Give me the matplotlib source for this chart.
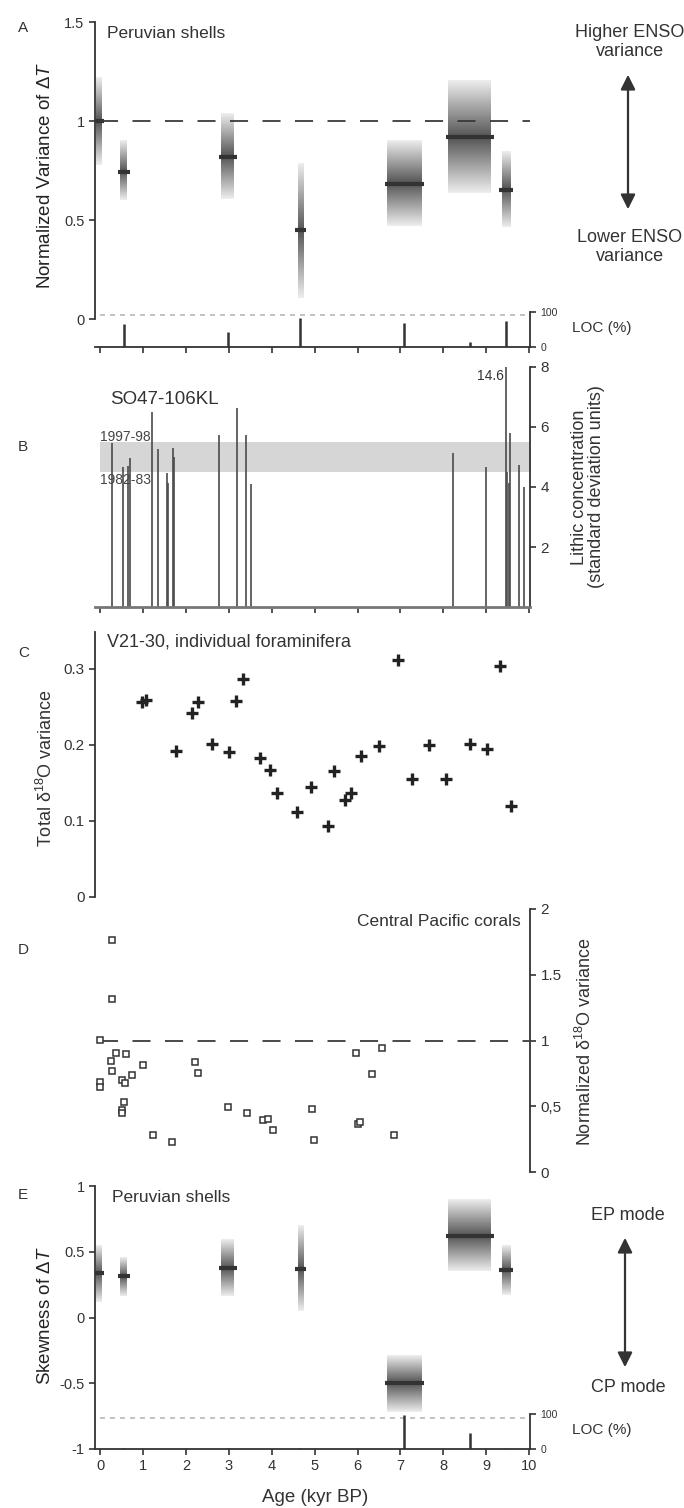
import numpy as np
import matplotlib

matplotlib.use("Agg")  # headless
import matplotlib.pyplot as plt  # noqa: E402
from matplotlib.patches import FancyArrowPatch  # noqa: E402

plt.rcParams["font.family"] = ["Liberation Sans", "DejaVu Sans"]
plt.rcParams["mathtext.fontset"] = "custom"
plt.rcParams["mathtext.rm"] = "Liberation Sans"
plt.rcParams["mathtext.it"] = "Liberation Sans:italic"

# --- data -------------------------------------------------------------------
# Peruvian shells: age (kyr BP), age half-width, central value and shaded range
shell_age = [-0.04, 0.55, 2.97, 4.67, 7.09, 8.62, 9.46]
shell_halfwidth = [0.06, 0.08, 0.15, 0.06, 0.40, 0.50, 0.10]
var_mid = [1.00, 0.745, 0.82, 0.45, 0.685, 0.92, 0.655]
var_lo = [0.78, 0.60, 0.605, 0.11, 0.47, 0.64, 0.465]
var_hi = [1.22, 0.90, 1.035, 0.79, 0.90, 1.205, 0.845]
loc_var = [0, 64, 43, 81, 68, 14, 74]

skew_mid = [0.34, 0.315, 0.373, 0.37, -0.497, 0.622, 0.365]
skew_lo = [0.12, 0.165, 0.16, 0.05, -0.718, 0.353, 0.17]
skew_hi = [0.55, 0.46, 0.59, 0.70, -0.287, 0.90, 0.55]
loc_skew = [0, 3, 3, 3, 98, 46, 3]

# SO47-106KL lithic concentration events
lith_age = [0.28, 0.53, 0.66, 0.69, 1.21, 1.35, 1.56, 1.59, 1.70, 1.73, 2.76,
            3.18, 3.39, 3.51, 8.23, 9.00, 9.45, 9.49, 9.53, 9.56, 9.77, 9.88]
lith_val = [5.46, 4.68, 4.70, 4.97, 6.51, 5.26, 4.48, 4.14, 5.29, 4.99, 5.73,
            6.64, 5.73, 4.10, 5.14, 4.68, 14.6, 4.51, 4.13, 5.80, 4.73, 4.01]

# V21-30 individual foraminifera
foram_age = [0.97, 1.07, 1.76, 2.14, 2.27, 2.61, 3.01, 3.17, 3.34, 3.72, 3.97,
             4.12, 4.59, 4.91, 5.30, 5.46, 5.70, 5.84, 6.09, 6.49, 6.95, 7.27,
             7.67, 8.07, 8.62, 9.02, 9.33, 9.57]
foram_var = [0.256, 0.259, 0.192, 0.242, 0.256, 0.201, 0.191, 0.258, 0.286,
             0.182, 0.167, 0.136, 0.111, 0.144, 0.093, 0.166, 0.128, 0.137,
             0.185, 0.198, 0.311, 0.155, 0.200, 0.155, 0.201, 0.194, 0.304, 0.120]

# Central Pacific corals
coral_age = [0.28, 0.27, -0.01, 0.38, 0.60, 0.25, 1.00, 0.27, 0.75, 0.00, 0.52,
             0.59, -0.01, 0.55, 0.52, 0.52, 1.23, 1.68, 2.20, 2.28, 2.99, 3.43,
             3.79, 3.92, 4.04, 4.93, 4.99, 5.96, 6.58, 6.34, 6.01, 6.05, 6.86]
coral_var = [1.766, 1.314, 1.004, 0.905, 0.895, 0.846, 0.811, 0.767, 0.737,
             0.686, 0.696, 0.679, 0.648, 0.536, 0.470, 0.445, 0.282, 0.231,
             0.839, 0.752, 0.498, 0.450, 0.396, 0.404, 0.323, 0.480, 0.241,
             0.905, 0.945, 0.747, 0.363, 0.381, 0.285]

INK = "#333333"
W, H = 684, 1508
XL = (-0.12, 10.02)

fig = plt.figure(figsize=(W / 100, H / 100), dpi=100)


def px_axes(x0, y0, x1, y1):
    """Axes placed by pixel box (top-left origin)."""
    ax = fig.add_axes([x0 / W, 1 - y1 / H, (x1 - x0) / W, (y1 - y0) / H])
    ax.set_facecolor("none")
    for side in ("top", "right", "left", "bottom"):
        ax.spines[side].set_visible(False)
        ax.spines[side].set_color(INK)
        ax.spines[side].set_linewidth(1.3)
    ax.tick_params(colors=INK, labelcolor=INK, direction="out", length=4, width=1.2, labelsize=10.5)
    ax.set_xlim(XL)
    ax.set_xticks([])
    ax.set_yticks([])
    return ax


def ftext(x, y, s, **kw):
    kw.setdefault("color", INK)
    fig.text(x / W, 1 - y / H, s, **kw)


def farrow(x, y0, y1):
    fig.add_artist(FancyArrowPatch((x / W, 1 - y0 / H), (x / W, 1 - y1 / H),
                                   transform=fig.transFigure, arrowstyle="<|-|>",
                                   mutation_scale=22, lw=1.6, color=INK))


def shaded_box(ax, x, hw, lo, mid, hi):
    ys = np.linspace(lo, hi, 150)
    t = np.where(ys < mid, (ys - lo) / (mid - lo), (hi - ys) / (hi - mid))
    shade = 0.93 - 0.6 * np.clip(t, 0, 1)
    ax.imshow(np.tile(shade[:, None], (1, 2)), extent=[x - hw, x + hw, lo, hi],
              origin="lower", cmap="gray", vmin=0, vmax=1, aspect="auto",
              interpolation="bilinear", zorder=1)
    ax.hlines(mid, x - hw - 0.06, x + hw + 0.06, color=INK, lw=3, zorder=3)


def loc_axes(y0, y1, values):
    ax = px_axes(95, y0, 530, y1)
    ax.set_ylim(0, 100)
    ax.spines["right"].set_visible(True)
    ax.spines["right"].set_bounds(0, 100)
    ax.yaxis.tick_right()
    ax.set_yticks([0, 100], ["0", "100"])
    ax.tick_params(axis="y", labelsize=7.5, length=4)
    ax.plot([0, 10], [90, 90], color="#b8b8b8", lw=1.2, dashes=(3, 3))
    ax.vlines(shell_age, 0, values, color=INK, lw=1.8)
    return ax


# --- A: normalized variance -------------------------------------------------
axA = px_axes(95, 22, 530, 347)
for i in range(len(shell_age)):
    shaded_box(axA, shell_age[i], shell_halfwidth[i], var_lo[i], var_mid[i], var_hi[i])
axA.plot([0, 10.05], [1, 1], color="#3a3a3a", lw=1.3, dashes=(10, 8), zorder=4)
axA.set_xlim(XL)
axA.set_ylim(-0.139, 1.5)
axA.spines["left"].set_visible(True)
axA.spines["left"].set_bounds(0, 1.5)
axA.spines["bottom"].set_visible(True)
axA.set_yticks([0, 0.5, 1, 1.5], ["0", "0.5", "1", "1.5"])
axA.set_xticks(range(11), [""] * 11)
loc_axes(311.5, 347, loc_var)

ftext(18, 28, "A", fontsize=11, ha="left", va="center")
ftext(107, 34, "Peruvian shells", fontsize=12.5, ha="left", va="center")
ftext(46, 175, "Normalized Variance of Δ$\\mathit{T}$", fontsize=13.5, rotation=90,
      ha="center", va="center", color="#222222")
ftext(630, 42, "Higher ENSO\nvariance", fontsize=13, ha="center", va="center", linespacing=1.15)
ftext(630, 247, "Lower ENSO\nvariance", fontsize=13, ha="center", va="center", linespacing=1.15)
farrow(628, 72, 212)
ftext(572, 328, "LOC (%)", fontsize=11, ha="left", va="center")

# --- B: lithic concentration ------------------------------------------------
axB = px_axes(95, 367, 530, 607)
axB.fill_between([0, 10.02], 4.5, 5.5, color="#d6d6d6", lw=0, zorder=0)
axB.vlines(lith_age, 0, lith_val, color="#4a4a4a", lw=1.2, zorder=2)
axB.set_ylim(0, 8)
axB.spines["right"].set_visible(True)
axB.spines["right"].set_bounds(0, 8)
axB.spines["bottom"].set_visible(True)
axB.spines["bottom"].set_color("#777777")
axB.spines["bottom"].set_linewidth(2)
axB.yaxis.tick_right()
axB.set_yticks([2, 4, 6, 8], ["2", "4", "6", "8"])
axB.tick_params(axis="y", labelsize=11)
axB.set_xticks(range(11), [""] * 11)
axB.text(lith_age[16] - 0.05, 7.7, "14.6", fontsize=10, ha="right", va="center", color=INK)
axB.text(0, 5.67, "1997-98", fontsize=10, ha="left", va="center", color="#444444")
axB.text(0, 4.23, "1982-83", fontsize=10, ha="left", va="center", color="#444444")

ftext(18, 447, "B", fontsize=11, ha="left", va="center")
ftext(110, 399, "SO47-106KL", fontsize=13.5, ha="left", va="center")
ftext(588, 487, "Lithic concentration\n(standard deviation units)", fontsize=13,
      rotation=90, ha="center", va="center", linespacing=1.05)

# --- C: foraminifera --------------------------------------------------------
axC = px_axes(95, 632, 530, 897)
axC.plot(foram_age, foram_var, ls="none", marker="+", ms=8, mew=2.4, color="#222222")
axC.set_ylim(0, 0.348)
axC.spines["left"].set_visible(True)
axC.set_yticks([0, 0.1, 0.2, 0.3], ["0", "0.1", "0.2", "0.3"])
axC.tick_params(axis="y", labelsize=11)

ftext(18, 653, "C", fontsize=11, ha="left", va="center")
ftext(107, 642, "V21-30, individual foraminifera", fontsize=13, ha="left", va="center")
ftext(46, 768, "Total δ$^{18}$O variance", fontsize=13, rotation=90, ha="center", va="center")

# --- D: corals --------------------------------------------------------------
axD = px_axes(95, 909, 530, 1172)
axD.plot([0, 10], [1, 1], color="#3a3a3a", lw=1.3, dashes=(10, 8), zorder=1)
axD.plot(coral_age, coral_var, ls="none", marker="s", ms=4.5, mfc="white", mec=INK, mew=1.1, zorder=2)
axD.set_ylim(0, 2)
axD.spines["right"].set_visible(True)
axD.yaxis.tick_right()
axD.set_yticks([0, 0.5, 1, 1.5, 2], ["0", "0,5", "1", "1.5", "2"])
axD.tick_params(axis="y", labelsize=11)

ftext(18, 950, "D", fontsize=11, ha="left", va="center")
ftext(521, 921, "Central Pacific corals", fontsize=12.5, ha="right", va="center")
ftext(585, 1042, "Normalized δ$^{18}$O variance", fontsize=13, rotation=90, ha="center", va="center")

# --- E: skewness ------------------------------------------------------------
axE = px_axes(95, 1186, 530, 1449)
for i in range(len(shell_age)):
    shaded_box(axE, shell_age[i], shell_halfwidth[i], skew_lo[i], skew_mid[i], skew_hi[i])
axE.set_xlim(XL)
axE.set_ylim(-1, 1)
axE.spines["left"].set_visible(True)
axE.spines["bottom"].set_visible(True)
axE.set_yticks([-1, -0.5, 0, 0.5, 1], ["-1", "-0.5", "0", "0.5", "1"])
axE.set_xticks(range(11), [str(k) for k in range(11)])
axE.tick_params(labelsize=10.5)
loc_axes(1414, 1449, loc_skew)

ftext(18, 1195, "E", fontsize=11, ha="left", va="center")
ftext(112, 1198, "Peruvian shells", fontsize=12.5, ha="left", va="center")
ftext(46, 1316, "Skewness of Δ$\\mathit{T}$", fontsize=13.5, rotation=90,
      ha="center", va="center", color="#222222")
ftext(628, 1216, "EP mode", fontsize=13, ha="center", va="center")
ftext(628, 1388, "CP mode", fontsize=13, ha="center", va="center")
farrow(625, 1235, 1370)
ftext(572, 1430, "LOC (%)", fontsize=11, ha="left", va="center")
ftext(315, 1497, "Age (kyr BP)", fontsize=13.5, ha="center", va="center")

fig.savefig("out.png", dpi=100)
